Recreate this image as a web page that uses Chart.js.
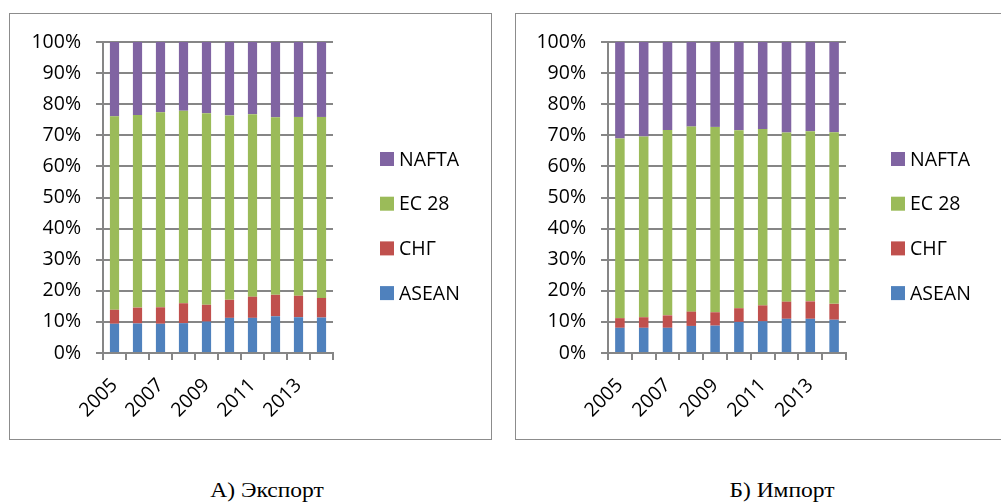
<!DOCTYPE html>
<html><head><meta charset="utf-8">
<script src="https://cdn.jsdelivr.net/npm/chart.js@4"></script>
<style>
html,body{margin:0;padding:0;background:#fff;width:1001px;height:504px;overflow:hidden;position:relative}
.box{position:absolute;top:13px;height:425px;border:1px solid #8c8c8c;background:#fff;overflow:hidden}
#boxA{left:9px;width:481px}
#boxB{left:515px;width:520px}
canvas{display:block}
.cap{position:absolute;top:480px;line-height:21px;font-family:"Liberation Serif","Times New Roman",serif;font-size:21px;color:#000;white-space:nowrap;transform:translateX(-50%) scaleX(1.12)}
</style></head>
<body>
<div class="box" id="boxA"><canvas id="cA" width="481" height="425"></canvas></div>
<div class="box" id="boxB"><canvas id="cB" width="485" height="425"></canvas></div>
<div class="cap" style="left:267px">А) Экспорт</div>
<div class="cap" style="left:782px">Б) Импорт</div>
<script>
const years = ['2005','2006','2007','2008','2009','2010','2011','2012','2013','2014'];
const seriesNames = ['ASEAN','СНГ','ЕС 28','NAFTA'];
const seriesColors = ['#4F81BD','#C0504D','#9BBB59','#8064A2'];
const yTickValues = [0,10,20,30,40,50,60,70,80,90,100];

// Экспорт (shares, %)
const exportASEAN = [9.4, 9.5, 9.4, 9.6, 10.1, 11.3, 11.3, 11.8, 11.5, 11.4];
const exportCIS   = [4.5, 5.1, 5.3, 6.4, 5.4, 5.8, 6.8, 6.9, 6.9, 6.3];
const exportEU    = [62.2, 61.9, 62.7, 61.9, 61.6, 59.3, 58.7, 57.1, 57.5, 58.2];
const exportNAFTA = [23.9, 23.5, 22.6, 22.1, 22.9, 23.6, 23.2, 24.2, 24.1, 24.1];

// Импорт (shares, %)
const importASEAN = [8.1, 8.1, 8.1, 8.7, 8.8, 10.0, 10.2, 11.0, 11.0, 10.7];
const importCIS   = [3.1, 3.4, 4.0, 4.6, 4.3, 4.4, 5.1, 5.5, 5.6, 5.1];
const importEU    = [57.8, 58.1, 59.6, 59.5, 59.6, 57.2, 56.7, 54.4, 54.7, 55.2];
const importNAFTA = [31.0, 30.4, 28.3, 27.2, 27.3, 28.4, 28.0, 29.1, 28.7, 29.0];

const FONT = '"Open Sans", "Noto Sans", sans-serif';
const FSIZE = 19.5;
const GRID = '#868686';

const sideLegend = {
  id: 'sideLegend',
  afterDraw(chart, args, opts) {
    const ctx = chart.ctx, ds = chart.data.datasets;
    const x = chart.chartArea.right + opts.offset;
    ctx.save();
    ctx.font = FSIZE + 'px ' + FONT;
    ctx.textBaseline = 'middle';
    ctx.textAlign = 'left';
    for (let i = 0; i < ds.length; i++) {
      const d = ds[ds.length - 1 - i];
      const y = opts.top + i * opts.step;
      ctx.fillStyle = d.backgroundColor;
      ctx.fillRect(x, y - opts.box / 2, opts.box, opts.box);
      ctx.fillStyle = '#000';
      ctx.fillText(d.label, x + opts.box + opts.gap, y + 1);
    }
    ctx.restore();
  }
};

function makeChart(id, arrays, g) {
  const datasets = arrays.map((arr, i) => ({
    label: seriesNames[i],
    data: arr,
    backgroundColor: seriesColors[i],
    borderWidth: 0,
    categoryPercentage: 1.0,
    barPercentage: 0.4
  }));
  return new Chart(document.getElementById(id), {
    type: 'bar',
    data: { labels: years, datasets },
    plugins: [sideLegend],
    options: {
      responsive: false,
      animation: false,
      layout: { padding: { left: 0, right: g.padRight, top: 28, bottom: 0 } },
      plugins: {
        legend: { display: false },
        tooltip: { enabled: false },
        sideLegend: { offset: g.legOffset, top: 145, step: 44.7, box: 14, gap: 5 }
      },
      scales: {
        x: {
          stacked: true,
          afterFit(s) { s.height = 86; },
          grid: { drawOnChartArea: false, drawTicks: true, tickLength: 7, color: GRID, lineWidth: 2, offset: true },
          border: { display: true, color: GRID, width: 2 },
          ticks: {
            autoSkip: false, minRotation: 45, maxRotation: 45, padding: 14,
            color: '#000', font: { family: FONT, size: FSIZE },
            callback: (v, i) => (i % 2 === 0 ? years[i] : '')
          }
        },
        y: {
          stacked: true,
          min: 0, max: 100,
          afterFit(s) { s.width = g.yWidth; },
          afterBuildTicks(s) { s.ticks = yTickValues.map(v => ({ value: v })); },
          grid: { color: GRID, lineWidth: 2, tickLength: 7, drawTicks: true },
          border: { display: true, color: GRID, width: 2 },
          ticks: {
            padding: 15, color: '#000', font: { family: FONT, size: FSIZE },
            callback: v => v + '%'
          }
        }
      }
    }
  });
}

makeChart('cA', [exportASEAN, exportCIS, exportEU, exportNAFTA], { yWidth: 93, padRight: 158, legOffset: 47 });
makeChart('cB', [importASEAN, importCIS, importEU, importNAFTA], { yWidth: 92, padRight: 155, legOffset: 45 });
</script>
</body></html>
